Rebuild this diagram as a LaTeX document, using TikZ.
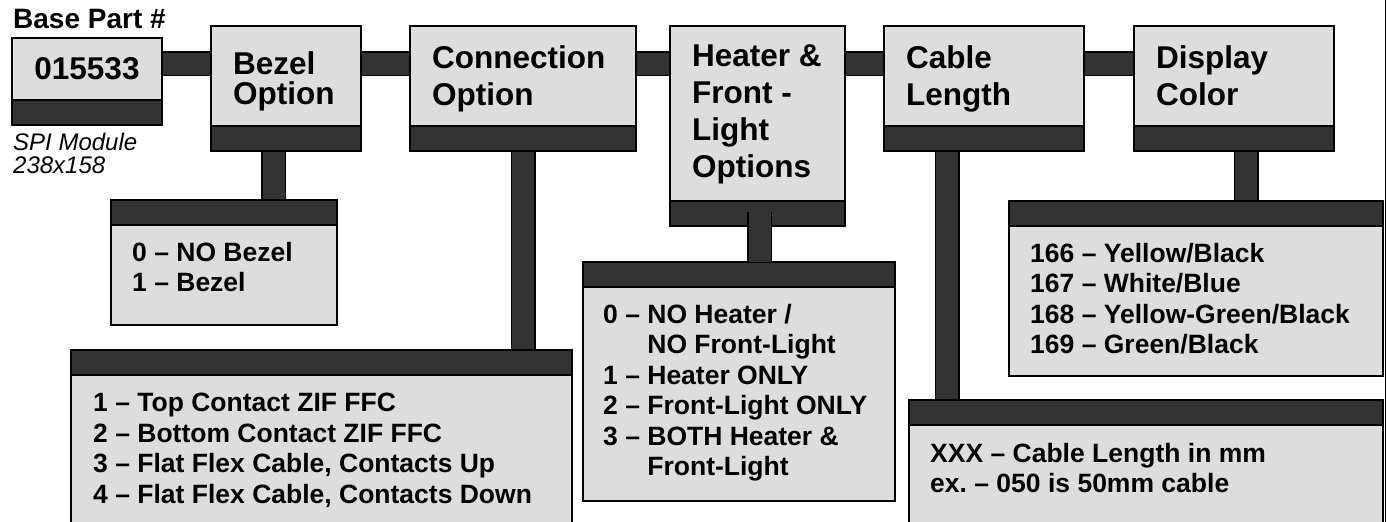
\documentclass[tikz,border=0pt]{standalone}
\usepackage{fontspec}
\setmainfont{Liberation Sans}
\usetikzlibrary{positioning,backgrounds}
\definecolor{boxgray}{HTML}{DDDDDD}
\definecolor{bandgray}{HTML}{333333}

\begin{document}
\begin{tikzpicture}[
  x=1pt, y=-1pt,
  box/.style={rectangle, draw, line width=1.5pt, fill=boxgray,
    inner sep=0pt, outer sep=0pt},
  band/.style={rectangle, draw, line width=1.5pt, fill=bandgray,
    inner sep=0pt, outer sep=0pt, minimum height=25pt},
  bar/.style={draw=black, line width=1.5pt, double=bandgray,
    double distance=22pt},
  title/.style={anchor=north west, inner sep=0pt, align=left,
    font=\fontsize{31.5}{37}\selectfont\bfseries},
  opts/.style={anchor=north west, inner sep=0pt, align=left,
    font=\fontsize{26.5}{30.5}\selectfont\bfseries}
]
\useasboundingbox (0,0) rectangle (1387,522);
\clip (0,0) rectangle (1387,522);

% part number
\node[box, anchor=north west, minimum width=150pt, minimum height=62pt] (base) at (12,38) {};
\node[band, minimum width=150pt, below=0pt of base] (base-b) {};
\node[font=\fontsize{31.5}{37}\selectfont\bfseries] (base-t) at (base.center) {015533};
\node[anchor=north west, inner sep=0pt, font=\fontsize{28}{30}\selectfont\bfseries]
  (base-lbl) at (13,9) {Base Part \#};
\node[anchor=north west, inner sep=0pt, align=left, font=\fontsize{24}{23}\selectfont\itshape]
  (base-sub) at (13,133) {SPI Module\\238x158};

% option headers
\node[box, anchor=north west, minimum width=150pt, minimum height=100pt] (bez) at (211,26) {};
\node[band, minimum width=150pt, below=0pt of bez] (bez-b) {};
\node[title, font=\fontsize{31.5}{30}\selectfont\bfseries] (bez-t)
  at ([shift={(22,25)}]bez.north west) {Bezel\\Option};

\node[box, anchor=north west, minimum width=226pt, minimum height=100pt] (conn) at (410,26) {};
\node[band, minimum width=226pt, below=0pt of conn] (conn-b) {};
\node[title] (conn-t) at ([shift={(22,19)}]conn.north west) {Connection\\Option};

\node[box, anchor=north west, minimum width=175pt, minimum height=175pt] (heat) at (670,26) {};
\node[band, minimum width=175pt, below=0pt of heat] (heat-b) {};
\node[title] (heat-t) at ([shift={(22,19)}]heat.north west) {Heater \&\\Front -\\Light\\Options};

\node[box, anchor=north west, minimum width=200pt, minimum height=100pt] (cab) at (884,26) {};
\node[band, minimum width=200pt, below=0pt of cab] (cab-b) {};
\node[title] (cab-t) at ([shift={(22,19)}]cab.north west) {Cable\\Length};

\node[box, anchor=north west, minimum width=200pt, minimum height=100pt] (disp) at (1134,26) {};
\node[band, minimum width=200pt, below=0pt of disp] (disp-b) {};
\node[title] (disp-t) at ([shift={(22,19)}]disp.north west) {Display\\Color};

% option lists
\node[band, anchor=north west, minimum width=226pt] (bezopt-b) at (111,200) {};
\node[box, minimum width=226pt, minimum height=100pt, below=0pt of bezopt-b] (bezopt) {};
\node[opts] (bezopt-t) at ([shift={(21,17)}]bezopt.north west)
  {0 -- NO Bezel\\1 -- Bezel};

\node[band, anchor=north west, minimum width=501pt] (connopt-b) at (71,350) {};
\node[box, minimum width=501pt, minimum height=200pt, below=0pt of connopt-b] (connopt) {};
\node[opts] (connopt-t) at ([shift={(22,18)}]connopt.north west)
  {1 -- Top Contact ZIF FFC\\2 -- Bottom Contact ZIF FFC\\
   3 -- Flat Flex Cable, Contacts Up\\4 -- Flat Flex Cable, Contacts Down};

\node[band, anchor=north west, minimum width=312pt] (heatopt-b) at (583,262) {};
\node[box, minimum width=312pt, minimum height=214pt, below=0pt of heatopt-b] (heatopt) {};
\node[opts] (heatopt-t) at ([shift={(20,17)}]heatopt.north west)
  {0 -- NO Heater /\\\hphantom{0 -- }NO Front-Light\\1 -- Heater ONLY\\
   2 -- Front-Light ONLY\\3 -- BOTH Heater \&\\\hphantom{0 -- }Front-Light};

\node[band, anchor=north west, minimum width=474pt] (cabopt-b) at (909,400) {};
\node[box, minimum width=474pt, minimum height=150pt, below=0pt of cabopt-b] (cabopt) {};
\node[opts] (cabopt-t) at ([shift={(21,18)}]cabopt.north west)
  {XXX -- Cable Length in mm\\ex.\ -- 050 is 50mm cable};

\node[band, anchor=north west, minimum width=374pt] (dispopt-b) at (1009,201) {};
\node[box, minimum width=374pt, minimum height=150pt, below=0pt of dispopt-b] (dispopt) {};
\node[opts] (dispopt-t) at ([shift={(21,17)}]dispopt.north west)
  {166 -- Yellow/Black\\167 -- White/Blue\\168 -- Yellow-Green/Black\\169 -- Green/Black};

% connecting bars
\coordinate (bary) at (0,63.5);
\coordinate (bezx) at (273.5,0);
\coordinate (connx) at (523,0);
\coordinate (heatx) at (759.5,0);
\coordinate (cabx) at (947,0);
\coordinate (dispx) at (1246,0);
\begin{scope}[on background layer]
  \draw[bar] (base.east |- bary) -- (bez.west |- bary);
  \draw[bar] (bez.east |- bary) -- (conn.west |- bary);
  \draw[bar] (conn.east |- bary) -- (heat.west |- bary);
  \draw[bar] (heat.east |- bary) -- (cab.west |- bary);
  \draw[bar] (cab.east |- bary) -- (disp.west |- bary);
  \draw[bar] (bez-b.south -| bezx) -- (bezopt-b.north -| bezx);
  \draw[bar] (conn-b.south -| connx) -- (connopt-b.north -| connx);
  \draw[bar] (cab-b.south -| cabx) -- (cabopt-b.north -| cabx);
  \draw[bar] (disp-b.south -| dispx) -- (dispopt-b.north -| dispx);
\end{scope}
\draw[bar] ([yshift=14pt]heat-b.south -| heatx) -- (heatopt-b.north -| heatx);

% page edge
\coordinate (edge-t) at (1385.5,0);
\coordinate (edge-b) at (1385.5,522);
\draw[line width=1.5pt] (edge-t) -- (edge-b);
\end{tikzpicture}
\end{document}
